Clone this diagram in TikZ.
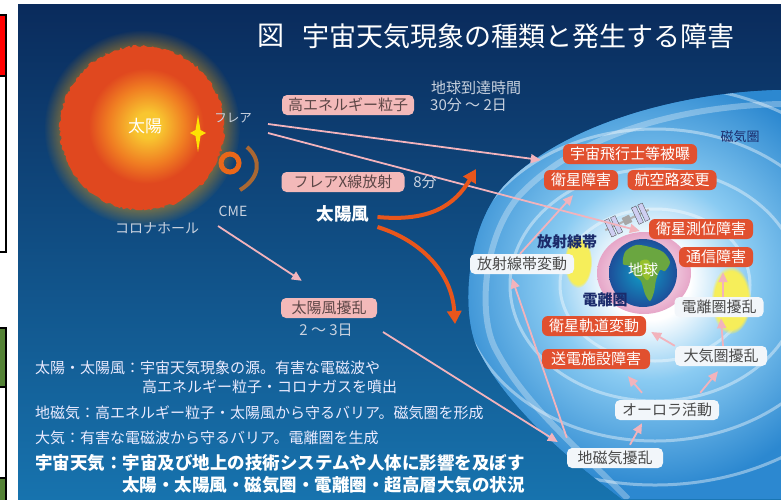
\documentclass[tikz,border=0pt]{standalone}
\usepackage{fontspec}
\setmainfont{Noto Sans CJK JP}
\usetikzlibrary{arrows.meta,fadings,decorations.pathmorphing}
\newcommand\fsz[1]{\fontsize{#1}{#1}\selectfont}
\definecolor{bgtop}{HTML}{0A2B5C}
\definecolor{bgbot}{HTML}{1773AE}
\definecolor{magblue}{HTML}{2C88D0}
\definecolor{maglight}{HTML}{8ACBF2}
\definecolor{sunY}{HTML}{F8C630}
\definecolor{sunO}{HTML}{F07E22}
\definecolor{sunR}{HTML}{E0481F}
\definecolor{boxred}{HTML}{E1502F}
\definecolor{boxpink}{HTML}{F3B9B9}
\definecolor{pinktext}{HTML}{5C4646}
\definecolor{boxwhite}{HTML}{F2F6FA}
\definecolor{whitetext}{HTML}{4A4A4A}
\definecolor{arrowpink}{HTML}{F2B3BC}
\definecolor{windorange}{HTML}{E8561C}
\definecolor{navytext}{HTML}{1B2B6B}
\definecolor{greytext}{HTML}{C9D2DF}
\definecolor{earthblue}{HTML}{1D4F9A}
\definecolor{landgreen}{HTML}{6AA640}
\definecolor{stripgreen}{HTML}{548235}
\definecolor{beltyellow}{HTML}{F6EE5A}
\definecolor{halopink}{HTML}{E6A6C8}
\pgfdeclareradialshading{sunglowshade}{\pgfpointorigin}{color(0bp)=(pgftransparent!0); color(19bp)=(pgftransparent!25); color(25bp)=(pgftransparent!100); color(50bp)=(pgftransparent!100)}
\pgfdeclarefading{sunglow}{\pgfuseshading{sunglowshade}}
\pgfdeclareradialshading{sunshade}{\pgfpoint{2bp}{1bp}}{color(0bp)=(sunY); color(4bp)=(sunY); color(12bp)=(sunO); color(18bp)=(sunR); color(25bp)=(sunR); color(50bp)=(sunR)}
\pgfdeclareradialshading{magshade}{\pgfpointorigin}{color(0bp)=(white); color(4bp)=(white); color(10bp)=(maglight); color(21bp)=(magblue); color(50bp)=(magblue)}
\tikzset{
  redbox/.style={rounded corners=6pt, fill=boxred, text=white, inner xsep=7pt, inner ysep=1pt, minimum height=20pt, font=\fsz{15}},
  pinkbox/.style={rounded corners=5pt, fill=boxpink, text=pinktext, inner xsep=6pt, inner ysep=1pt, minimum height=20pt, font=\fsz{15}},
  whitebox/.style={rounded corners=5pt, fill=boxwhite, text=whitetext, inner xsep=7pt, inner ysep=1pt, minimum height=20pt, font=\fsz{15}},
  greylabel/.style={text=greytext, inner sep=0pt, font=\fsz{15}},
  navylabel/.style={text=navytext, inner sep=0pt, font=\fsz{15}\bfseries},
  notetext/.style={text=white!92!blue, inner sep=0pt, anchor=west, font=\fsz{15}},
  boldnote/.style={text=white, inner sep=0pt, anchor=west, font=\fsz{17.5}\bfseries},
  pinkarrow/.style={draw=arrowpink, line width=1.8pt, -{Triangle[length=10pt,width=9pt]}},
  windarrow/.style={draw=windorange, line width=4pt, -{Triangle[length=13pt,width=14pt]}}
}
\begin{document}
\begin{tikzpicture}[x=1pt,y=-1pt]
\useasboundingbox (0,0) rectangle (781,499);
\shade[top color=bgtop, bottom color=bgbot] (18,4) rectangle (781,499);
\draw[black, line width=1.5pt, fill=red] (-2,15) rectangle (6,76);
\draw[black, line width=1.5pt, fill=white] (-2,76) rectangle (6,252);
\draw[black, line width=1.5pt, fill=stripgreen] (-2,328) rectangle (6,387);
\draw[black, line width=1.5pt, fill=white] (-2,387) rectangle (6,478);
\draw[black, line width=1.5pt, fill=stripgreen] (-2,478) rectangle (6,502);
\fill[magblue] (781,90) .. controls (680,92) and (560,125) .. (503,187) .. controls (465,230) and (460,320) .. (480,353) .. controls (510,410) and (570,460) .. (622,499) -- (781,499) -- cycle;
\begin{scope}
\clip (781,90) .. controls (680,92) and (560,125) .. (503,187) .. controls (465,230) and (460,320) .. (480,353) .. controls (510,410) and (570,460) .. (622,499) -- (781,499) -- cycle;
\shade[shading=magshade] (650,280) circle (250);
\draw[white, opacity=0.3, line width=6pt] (781,104) .. controls (680,106) and (575,135) .. (518,197) .. controls (482,240) and (478,318) .. (496,350) .. controls (525,405) and (580,450) .. (628,499);
\foreach \r in {95,145,195,250}
  \draw[white, opacity=0.4, line width=3pt] (655,285) ellipse ({\r} and {\r*0.8});
\fill[beltyellow, path fading=circle with fuzzy edge 15 percent] (578,262) ellipse (14 and 26);
\fill[beltyellow, path fading=circle with fuzzy edge 15 percent] (731,300) ellipse (20 and 34);
\end{scope}
\shade[inner color=white, outer color=halopink] (644,273) ellipse (47 and 41);
\shade[inner color=earthblue!55!cyan, outer color=earthblue] (643,273) circle (34);
\begin{scope}
\clip (643,273) circle (34);
\fill[landgreen] plot[smooth cycle] coordinates {(625,252) (636,245) (650,247) (663,252) (670,262) (665,271) (660,270) (656,280) (654,292) (650,301) (645,294) (641,281) (634,275) (630,266) (623,264)};
\fill[landgreen!70!yellow] plot[smooth cycle] coordinates {(640,262) (648,260) (652,270) (648,280) (643,276)};
\end{scope}
\begin{scope}[shift={(627,220)}, rotate=25]
\fill[gray!60] (-24,-1) rectangle (24,1);
\foreach \px in {-21,-14,9,16}
  \fill[gray!45!blue!25!white, draw=gray!50!black, line width=.3pt] (\px,-9) rectangle (\px+5,9);
\fill[gray!70] (-4,-4) rectangle (4,4);
\end{scope}
\fill[orange!70!yellow, path fading=sunglow, opacity=0.7] (142,128) circle (98);
\fill[sunR, decorate, decoration={random steps, segment length=2.5pt, amplitude=1.3pt}] (142,128) circle (82);
\shade[shading=sunshade] (142,128) circle (80);
\fill[yellow!85!orange] (198,115) -- (200.5,130) -- (206,133) -- (200.5,136) -- (198,152) -- (195.5,136) -- (190,133) -- (195.5,130) -- cycle;
\draw[windorange!90!yellow, line width=5pt] (230,163) circle (9);
\draw[windorange!80!yellow, line width=4pt, opacity=0.7] (247,147) .. controls (262,160) and (260,178) .. (240,190);
\node[font=\fsz{27}, text=white, inner sep=0pt, anchor=west] (zu) at (257,36) {図};
\node[font=\fsz{27}, text=white, inner sep=0pt, anchor=west] (title) at (302,36) {宇宙天気現象の種類と発生する障害};
\node[font=\fsz{17}, text=white, inner sep=0pt] (sun) at (145,126) {太陽};
\node[greylabel, font=\fsz{12.5}] (flare) at (233,118) {フレア};
\node[greylabel, font=\fsz{14}] (cme) at (233,211) {CME};
\node[greylabel, font=\fsz{14}] (corona) at (157,228) {コロナホール};
\node[font=\fsz{17.5}\bfseries, text=white, inner sep=0pt] (wind) at (343,214) {太陽風};
\node[pinkbox] (ryushi) at (348,105) {高エネルギー粒子};
\node[pinkbox, minimum width=123pt] (xsen) at (343,182) {フレアX線放射};
\node[pinkbox, minimum width=96pt] (fujo) at (329,308) {太陽風擾乱};
\node[greylabel] (arrive) at (476,88) {地球到達時間};
\node[greylabel, anchor=west] (t1) at (430,105) {30分 ～ 2日};
\node[greylabel] (t2) at (425,182) {8分};
\node[greylabel] (t3) at (326,330) {2 ～ 3日};
\node[redbox] (hibaku) at (630,154) {宇宙飛行士等被曝};
\node[redbox] (eisei) at (581,180) {衛星障害};
\node[redbox] (koku) at (672,180) {航空路変更};
\node[redbox] (sokui) at (701,229) {衛星測位障害};
\node[redbox] (tsushin) at (716,257) {通信障害};
\node[redbox] (kido) at (594,326) {衛星軌道変動};
\node[redbox, minimum width=108pt] (soden) at (596,359) {送電施設障害};
\node[whitebox] (hoshasen) at (522,264) {放射線帯変動};
\node[whitebox] (denri) at (719,307) {電離圏擾乱};
\node[whitebox, minimum width=92pt] (taiki) at (721,356) {大気圏擾乱};
\node[whitebox] (aurora) at (667,410) {オーロラ活動};
\node[whitebox, minimum width=96pt] (chijiki) at (615,458) {地磁気擾乱};
\node[navylabel, font=\fsz{13}] (jikiken) at (740,137) {磁気圏};
\node[navylabel] (belt) at (567,242) {放射線帯};
\node[navylabel] (ion) at (605,300) {電離圏};
\node[text=white, inner sep=0pt, font=\fsz{15}] (earth) at (643,270) {地球};
\node[notetext] (n1) at (35,368) {太陽・太陽風：宇宙天気現象の源。有害な電磁波や};
\node[notetext] (n2) at (142,387) {高エネルギー粒子・コロナガスを噴出};
\node[notetext] (n3) at (35,413) {地磁気：高エネルギー粒子・太陽風から守るバリア。磁気圏を形成};
\node[notetext] (n4) at (35,438) {大気：有害な電磁波から守るバリア。電離圏を生成};
\node[boldnote] (n5) at (35,463) {宇宙天気：宇宙及び地上の技術システムや人体に影響を及ぼす};
\node[boldnote] (n6) at (122,485) {太陽・太陽風・磁気圏・電離圏・超高層大気の状況};
\coordinate (fl1) at (268,124);
\coordinate (fl2) at (268,133);
\coordinate (co1) at (218,226);
\coordinate (dist1) at (383,332);
\coordinate (kaze1) at (476,169);
\coordinate (kaze2) at (455,324);
\draw[pinkarrow] (fl1) -- ([xshift=-22pt,yshift=-6pt]hibaku.west);
\draw[pinkarrow] (fl2) -- ([xshift=-9pt,yshift=-2pt]sokui.west);
\draw[pinkarrow] (co1) -- ([xshift=21pt,yshift=17pt]fujo.north west);
\draw[pinkarrow] (dist1) -- ([xshift=-9pt,yshift=16pt]chijiki.west);
\draw[pinkarrow] ([yshift=10pt]chijiki.north west) -- ([xshift=-10pt,yshift=-4pt]hoshasen.south);
\draw[pinkarrow] ([xshift=-2pt]hoshasen.north) -- ([xshift=-8pt,yshift=-5pt]eisei.south);
\draw[pinkarrow] ([xshift=15pt,yshift=3pt]chijiki.north) -- ([xshift=-25pt,yshift=-3pt]aurora.south);
\draw[pinkarrow] ([xshift=-25pt,yshift=7pt]aurora.north) -- ([xshift=32pt,yshift=-7pt]soden.south);
\draw[pinkarrow] ([xshift=-19pt,yshift=7pt]aurora.north east) -- ([xshift=-3pt,yshift=-5pt]taiki.south);
\draw[pinkarrow] (taiki.north west) -- ([xshift=5pt,yshift=-6pt]kido.east);
\draw[pinkarrow] ([xshift=2pt]taiki.north) -- ([xshift=2pt,yshift=-1pt]denri.south);
\draw[pinkarrow] ([xshift=4pt]denri.north) -- ([xshift=4pt,yshift=-5pt]denri.north |- tsushin.south);
\draw[windarrow] ([xshift=8pt,yshift=-3pt]wind.east) .. controls (430,222) and (455,205) .. (kaze1);
\draw[windarrow] ([xshift=8pt,yshift=-13pt]wind.east) .. controls (420,240) and (452,272) .. (kaze2);
\end{tikzpicture}
\end{document}
